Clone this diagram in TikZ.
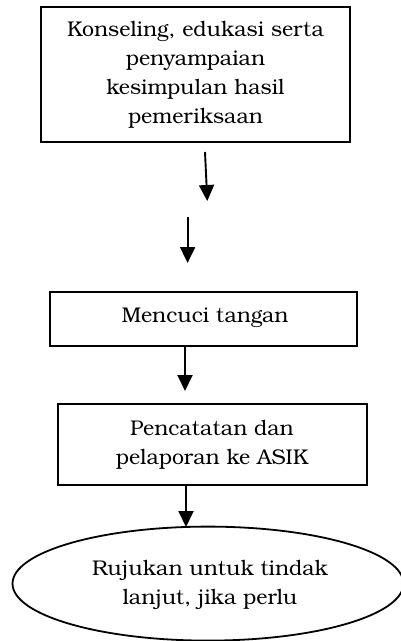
\documentclass[tikz,border=0pt]{standalone}
\usepackage{fontspec}
\setmainfont{TeX Gyre Bonum}
\usetikzlibrary{arrows.meta,shapes.geometric}
\begin{document}
\begin{tikzpicture}[x=1pt,y=-1pt,
  box/.style={draw,line width=2pt,rectangle,inner sep=0pt},
  oval/.style={draw,line width=1.8pt,ellipse,inner sep=0pt},
  txt/.style={font=\fontsize{21.3}{29}\selectfont,align=center,inner sep=0pt},
  arr/.style={line width=1.9pt,-{Triangle[width=15pt,length=16pt]}}]
\useasboundingbox (0,0) rectangle (400,641);
\node[box,minimum width=308.7pt,minimum height=135.3pt] (b1) at (195.3,74.7) {};
\node[box,minimum width=306.7pt,minimum height=53.7pt] (b2) at (203.7,318.8) {};
\node[box,minimum width=308.2pt,minimum height=81.3pt] (b3) at (212.4,444.3) {};
\node[oval,minimum width=391pt,minimum height=114pt] (e1) at (208,583.6) {};
\node[txt,anchor=base] (t1) at (195.5,123.5) {Konseling, edukasi serta\\penyampaian\\kesimpulan hasil\\pemeriksaan};
\node[txt,anchor=base] (t2) at (205,322) {Mencuci tangan};
\node[txt,anchor=base] (t3) at (212,464) {Pencatatan dan\\pelaporan ke ASIK};
\node[txt,anchor=base] (t4) at (210,604) {Rujukan untuk tindak\\lanjut, jika perlu};
\coordinate (a1s) at (205,152);
\coordinate (a1e) at (207.3,201);
\coordinate (a2s) at (187.6,216.5);
\coordinate (a2e) at (187.6,263);
\coordinate (a3e) at (185,391);
\coordinate (a4e) at (186,527);
\draw[arr] (a1s) -- (a1e);
\draw[arr] (a2s) -- (a2e);
\draw[arr] (b2.south -| a3e) -- (a3e);
\draw[arr] (b3.south -| a4e) -- (a4e);
\end{tikzpicture}
\end{document}
